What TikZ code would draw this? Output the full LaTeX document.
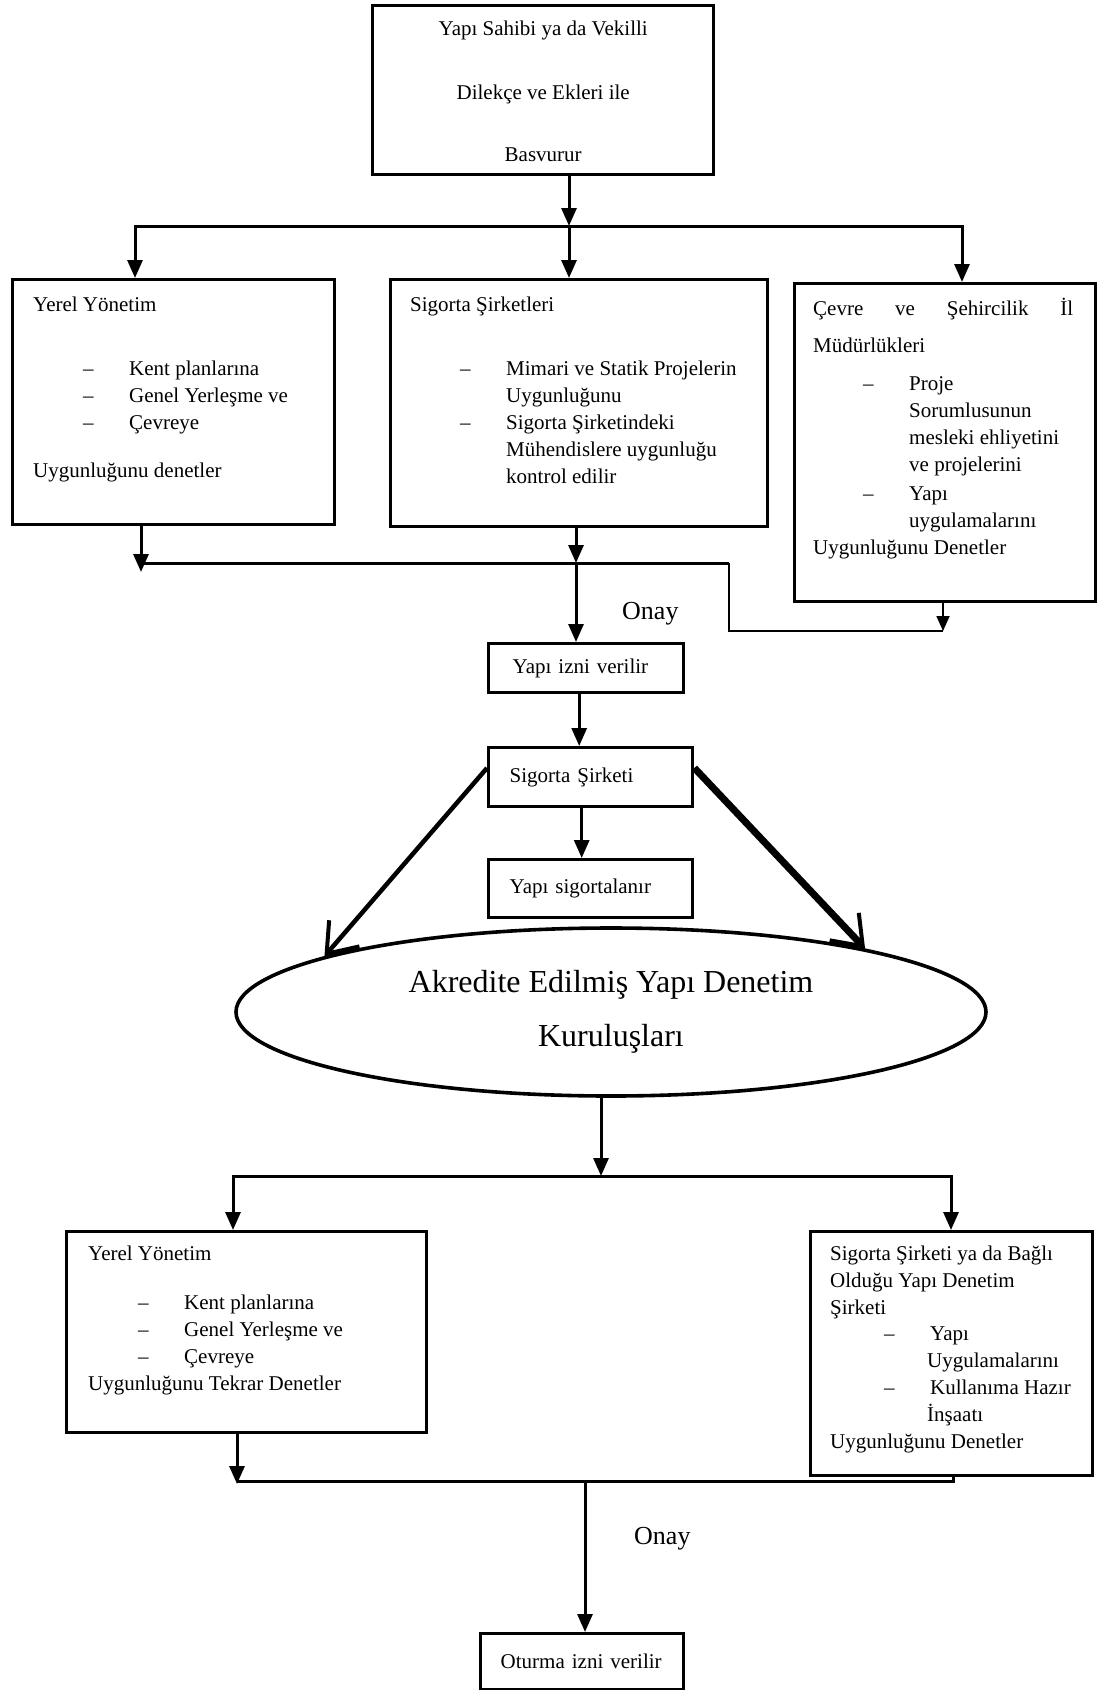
\documentclass[tikz,border=0pt]{standalone}
\usepackage{fontspec}
\setmainfont{Liberation Serif}
\usetikzlibrary{arrows.meta, shapes.geometric}
\newcommand{\madde}[1]{\hspace*{50pt}\makebox[46pt][l]{–}#1}
\newcommand{\devam}[1]{\hspace*{96pt}#1}

\begin{document}
\begin{tikzpicture}[x=1pt, y=-1pt,
		panel/.style={draw, line width=3.4pt, inner sep=0pt, anchor=north west},
		smallbox/.style={draw, line width=3.4pt, anchor=north west, inner xsep=21pt,
			inner ysep=0pt, align=left, font=\fontsize{21}{27}\selectfont},
		boxtext/.style={anchor=north west, inner sep=0pt, align=left,
			font=\fontsize{21}{27}\selectfont},
		onay/.style={anchor=base west, inner sep=0pt, font=\fontsize{26}{30}\selectfont},
		arrow/.style={-{Triangle[length=18pt,width=15pt]}, line width=3pt},
		smallarrow/.style={-{Triangle[length=15pt,width=13pt]}, line width=1.8pt},
		bigarrow/.style={-{Straight Barb[length=27pt,width=40pt,line width=4pt]}},
		bus/.style={line width=3pt},
		thinline/.style={line width=1.5pt}
	]
		\useasboundingbox (0,0) rectangle (1099,1690);
		\node[panel, minimum width=341pt, minimum height=169pt, align=center,
			font=\fontsize{21}{27}\selectfont] (basvuru) at (371,4)
			{\rule{0pt}{17.5pt}Yapı Sahibi ya da Vekilli\\[37pt]Dilekçe ve Ekleri ile\\[35pt]Basvurur};
		\node[panel, minimum width=322pt, minimum height=245pt] (yerel) at (11,278) {};
		\node[panel, minimum width=377pt, minimum height=247pt] (sigorta) at (389,278) {};
		\node[panel, minimum width=301pt, minimum height=318pt] (cevre) at (793,282) {};
		\node[boxtext] (yerelyazi) at (33,292) {\strut Yerel Yönetim\\[37pt]
			\madde{Kent planlarına}\\
			\madde{Genel Yerleşme ve}\\
			\madde{Çevreye}\\[21pt]
			Uygunluğunu denetler};
		\node[boxtext] (sigortayazi) at (410,292) {\strut Sigorta Şirketleri\\[37pt]
			\madde{Mimari ve Statik Projelerin}\\
			\devam{Uygunluğunu}\\
			\madde{Sigorta Şirketindeki}\\
			\devam{Mühendislere uygunluğu}\\
			\devam{kontrol edilir}};
		\node[boxtext] (cevreyazi) at (813,296)
			{\strut\makebox[260pt][s]{Çevre\hfill ve\hfill Şehircilik\hfill İl}\\[10pt]
			Müdürlükleri\\[11pt]
			\madde{Proje}\\
			\devam{Sorumlusunun}\\
			\devam{mesleki ehliyetini}\\
			\devam{ve projelerini}\\[2pt]
			\madde{Yapı}\\
			\devam{uygulamalarını}\\
			Uygunluğunu Denetler};
		\node[smallbox, inner xsep=24pt, text width=147pt, minimum height=49pt] (izin) at (487,642) {Yapı izni verilir};
		\node[smallbox, text width=162pt, minimum height=59pt] (police) at (487,746) {Sigorta Şirketi};
		\node[smallbox, text width=162pt, minimum height=58pt] (sigortali) at (487,858) {Yapı sigortalanır};
		\node[draw, ellipse, line width=3.6pt, minimum width=750pt, minimum height=168pt,
			inner sep=0pt, align=center, font=\fontsize{32}{54}\selectfont] (akredite) at (611,1012)
			{Akredite Edilmiş Yapı Denetim\\Kuruluşları};
		\node[panel, minimum width=360pt, minimum height=201pt] (yerel2) at (65,1230) {};
		\node[panel, minimum width=282pt, minimum height=244pt] (denetim) at (809,1230) {};
		\node[boxtext] (yerel2yazi) at (88,1241) {\strut Yerel Yönetim\\[22pt]
			\madde{Kent planlarına}\\
			\madde{Genel Yerleşme ve}\\
			\madde{Çevreye}\\
			Uygunluğunu Tekrar Denetler};
		\node[boxtext, font=\fontsize{21}{26.8}\selectfont] (denetimyazi) at (830,1241.5)
			{\strut Sigorta Şirketi ya da Bağlı\\
			Olduğu Yapı Denetim\\
			Şirketi\\
			\hspace*{4pt}\madde{Yapı}\\
			\hspace*{1pt}\devam{Uygulamalarını}\\
			\hspace*{4pt}\madde{Kullanıma Hazır}\\
			\hspace*{1pt}\devam{İnşaatı}\\
			Uygunluğunu Denetler};
		\node[smallbox, inner xsep=20pt, text width=163pt, minimum height=56pt] (oturma) at (479,1632) {Oturma izni verilir};
		\node[onay] (onay1) at (622,619) {Onay};
		\node[onay] (onay2) at (634,1544) {Onay};

		\coordinate (b1sol) at (135,226);
		\coordinate (b1orta) at (569,226);
		\coordinate (b1sag) at (962,226);
		\draw[arrow] (basvuru.south -| b1orta) -- (b1orta);
		\draw[arrow] (b1orta) -| (b1sol |- yerel.north);
		\draw[arrow] (b1orta) -| (b1sag |- cevre.north);
		\draw[arrow] (b1orta) -- (b1orta |- sigorta.north);

		\coordinate (b2sol) at (141,563);
		\coordinate (b2orta) at (576,563);
		\coordinate (b2sag) at (729,563);
		\coordinate (b2alt) at (943,631);
		\draw[arrow] (yerel.south -| b2sol) -- ([yshift=-9pt]b2sol);
		\draw[bus] (b2sol) -- (b2sag);
		\draw[arrow] (sigorta.south -| b2orta) -- (b2orta);
		\draw[arrow] (b2orta) -- (b2orta |- izin.north);
		\draw[thinline] (b2sag) |- (b2alt);
		\draw[smallarrow] (cevre.south -| b2alt) -- (b2alt);

		\draw[arrow] ([xshift=-7pt]izin.south) -- ([xshift=-7pt]izin.south |- police.north);
		\draw[arrow] ([xshift=-9pt]police.south) -- ([xshift=-9pt]police.south |- sigortali.north);
		\draw[bigarrow, line width=4.5pt] ([yshift=-22pt]police.north west) -- (akredite.169);
		\draw[bigarrow, line width=7pt] ([yshift=-22pt]police.north east) -- (akredite.14);

		\coordinate (b3sol) at (233,1176);
		\coordinate (b3orta) at (601,1176);
		\coordinate (b3sag) at (951,1176);
		\draw[arrow] (akredite.south -| b3orta) -- (b3orta);
		\draw[arrow] (b3orta) -| (b3sol |- yerel2.north);
		\draw[arrow] (b3orta) -| (b3sag |- denetim.north);

		\coordinate (b4sol) at (237,1481);
		\coordinate (b4orta) at (585,1481);
		\coordinate (b4sag) at (953,1481);
		\draw[arrow] (yerel2.south -| b4sol) -- ([yshift=-3pt]b4sol);
		\draw[bus] (b4sol) -- (b4sag) -- (b4sag |- denetim.south);
		\draw[arrow] (b4orta) -- (b4orta |- oturma.north);
	\end{tikzpicture}
\end{document}
